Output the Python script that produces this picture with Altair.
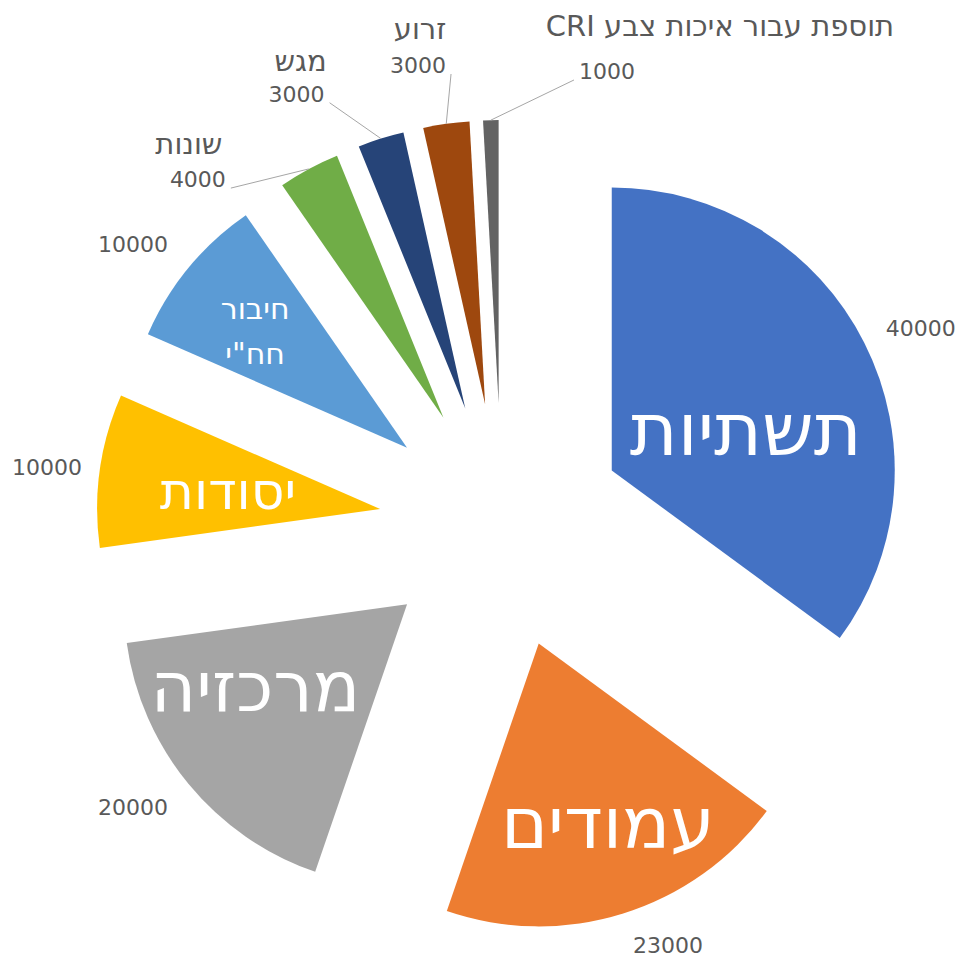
import math
import altair as alt
import pandas as pd

# ---------------- data ----------------
categories = ["תשתיות", "עמודים", "מרכזיה", "יסודות", 'חיבור חח"י',
              "שונות", "מגש", "זרוע", "תוספת עבור איכות צבע CRI"]
values = [40000, 23000, 20000, 10000, 10000, 4000, 3000, 3000, 1000]
colors = ["#4472C4", "#ED7D31", "#A5A5A5", "#FFC000", "#5B9BD5",
          "#70AD47", "#264478", "#9E480E", "#636363"]

# ---------------- layout (label placement, not data) ----------------
inside_label = [1, 1, 1, 1, 1, 0, 0, 0, 0]
in_r = [261, 319, 296, 276, 328, 0, 0, 0, 0]
in_da = [5.9, -2.0, 5.9, -1.0, 1.7, 0, 0, 0, 0]
in_fs = [73, 71, 70, 52, 30, 0, 0, 0, 0]
out_r = [462.6, 451.6, 464.4, 458.7, 463.8, 460.6, 477.7, 467.6, 466.0]
out_da = [1.7, -4.2, 2.1, -0.6, -2.2, -12.9, -8.1, -2.45, 14.6]
leader = [0, 0, 0, 0, 0, 1, 1, 1, 1]
cat_dx = [0, 0, 0, 0, 0, -9, 4, 2, 113]
cat_dy = [0, 0, 0, 0, 0, -35, -33, -36, -45]

R = 283      # slice radius (px)
D = 123      # explosion distance (px)
total = sum(values)

df = pd.DataFrame({
    "order": list(range(len(values))),
    "category": categories,
    "value": values,
    "color": colors,
    "inside": inside_label,
    "in_r": in_r, "in_da": in_da, "in_fs": in_fs,
    "out_r": out_r, "out_da": out_da,
    "leader": leader, "cat_dx": cat_dx, "cat_dy": cat_dy,
})
df["cat_display"] = df["category"].where(df["category"] != categories[-1],
                                         "\u202B" + categories[-1] + "\u202C")

xs = alt.Scale(domain=[-502, 457], nice=False, zero=False)
ys = alt.Scale(domain=[-434, 526], nice=False, zero=False)

base = (
    alt.Chart(df)
    .transform_window(ce="sum(value)", sort=[alt.SortField("order")], frame=[None, 0])
    .transform_calculate(cs="datum.ce - datum.value")
    .transform_calculate(mid=f"(datum.cs + datum.value / 2) / {total} * 2 * PI")
    .transform_calculate(
        px=f"{D} * sin(datum.mid)",
        py=f"{D} * cos(datum.mid)",
        la="datum.mid + datum.out_da * PI / 180",
        ia="datum.mid + datum.in_da * PI / 180",
        ex0=f"{D + R} * sin(datum.mid)",
        ey0=f"{D + R} * cos(datum.mid)",
    )
    .transform_calculate(
        lx="datum.out_r * sin(datum.la)",
        ly="datum.out_r * cos(datum.la)",
        ix="datum.in_r * sin(datum.ia)",
        iy="datum.in_r * cos(datum.ia)",
        side="sin(datum.la) < 0 ? 1 : -1",
    )
    .transform_calculate(
        ex1="datum.lx + datum.side * 33",
        ey1="datum.ly - 8",
        catx="datum.lx + datum.cat_dx",
        caty="datum.ly - datum.cat_dy",
    )
)

FONT = "DejaVu Sans, Open Sans, sans-serif"

arcs = base.mark_arc(radius=R).encode(
    theta=alt.Theta("cs:Q", scale=alt.Scale(domain=[0, total], range=[0, 2 * math.pi])),
    theta2="ce:Q",
    x=alt.X("px:Q", scale=xs, axis=None),
    y=alt.Y("py:Q", scale=ys, axis=None),
    fill=alt.Fill("color:N", scale=None),
)

leaders = base.transform_filter("datum.leader == 1").mark_rule(
    color="#A6A6A6", strokeWidth=1
).encode(
    x=alt.X("ex0:Q", scale=xs, axis=None),
    y=alt.Y("ey0:Q", scale=ys, axis=None),
    x2="ex1:Q",
    y2="ey1:Q",
)

value_labels = base.mark_text(
    font=FONT, fontSize=22, color="#595959", align="center", baseline="middle"
).encode(
    x=alt.X("lx:Q", scale=xs, axis=None),
    y=alt.Y("ly:Q", scale=ys, axis=None),
    text=alt.Text("value:Q", format="d"),
)

cat_labels = base.transform_filter("datum.inside == 0").mark_text(
    font=FONT, fontSize=29, color="#595959", align="center", baseline="middle"
).encode(
    x=alt.X("catx:Q", scale=xs, axis=None),
    y=alt.Y("caty:Q", scale=ys, axis=None),
    text="cat_display:N",
)

inner_labels = base.transform_filter("datum.inside == 1").mark_text(
    font=FONT, color="white", align="center", baseline="middle",
    lineBreak=" ", lineHeight=45
).encode(
    x=alt.X("ix:Q", scale=xs, axis=None),
    y=alt.Y("iy:Q", scale=ys, axis=None),
    text="category:N",
    size=alt.Size("in_fs:Q", scale=None),
)

chart = (
    alt.layer(arcs, leaders, value_labels, cat_labels, inner_labels)
    .properties(width=959, height=960, padding=0, autosize="none")
    .configure_view(stroke=None)
)

chart.save("out.html", embed_options={"renderer": "svg", "actions": False})
